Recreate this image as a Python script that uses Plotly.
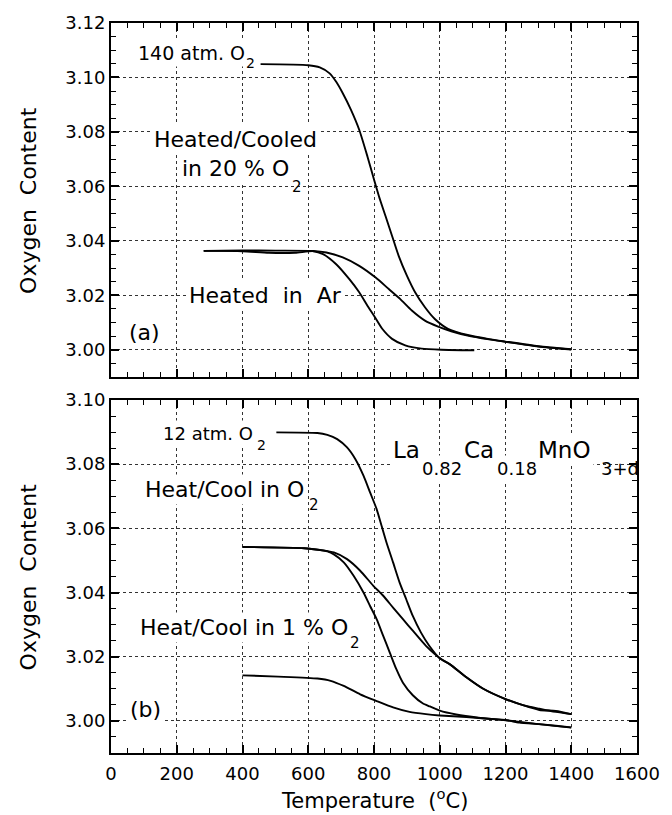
import plotly.graph_objects as go

# ---------------- data ----------------
# Panel (a)
t_140atm = [455, 600, 635, 665, 685, 705, 730, 755, 780, 800, 815, 835, 855, 875, 900,
            925, 955, 985, 1025, 1085, 1150, 1200, 1300, 1400]
o_140atm = [3.1049, 3.1045, 3.1037, 3.1015, 3.0984, 3.0942, 3.0881, 3.0808, 3.0710, 3.0625,
            3.0564, 3.0491, 3.0418, 3.0345, 3.0272, 3.0211, 3.0156, 3.0113, 3.0077, 3.0054,
            3.0039, 3.0030, 3.0013, 3.0002]

t_20pct = [282, 400, 500, 615, 655, 705, 755, 805, 845, 880, 915, 955, 995, 1035, 1085,
           1150, 1200, 1300, 1400]
o_20pct = [3.0363, 3.0365, 3.0364, 3.0363, 3.0357, 3.0339, 3.0308, 3.0265, 3.0223, 3.0186,
           3.0144, 3.0107, 3.0085, 3.0068, 3.0052, 3.0038, 3.0029, 3.0012, 3.0001]

t_ar = [282, 400, 480, 560, 615, 645, 685, 725, 755, 780, 800, 825, 855, 895, 945, 1005, 1105]
o_ar = [3.0363, 3.0362, 3.0356, 3.0356, 3.0362, 3.0351, 3.0314, 3.0259, 3.0211, 3.0162,
        3.0125, 3.0077, 3.0040, 3.0016, 3.0004, 3.0000, 2.9998]

# Panel (b)
t_12atm = [503, 628, 658, 688, 718, 743, 768, 788, 808, 823, 838, 858, 878, 898, 918, 943,
           968, 998, 1030, 1081, 1131, 1200, 1253, 1303, 1353, 1400]
o_12atm = [3.0899, 3.0897, 3.0891, 3.0878, 3.0852, 3.0816, 3.0764, 3.0712, 3.0660, 3.0608,
           3.0556, 3.0494, 3.0431, 3.0379, 3.0327, 3.0275, 3.0234, 3.0197, 3.0177, 3.0136,
           3.0101, 3.0068, 3.0049, 3.0034, 3.0031, 3.0021]

t_o2 = [400, 588, 638, 678, 718, 758, 798, 828, 858, 888, 918, 958, 1005, 1030, 1081, 1131,
        1200, 1253, 1303, 1353, 1400]
o_o2 = [3.0542, 3.0538, 3.0532, 3.0525, 3.0504, 3.0468, 3.0421, 3.0390, 3.0353, 3.0317,
        3.0281, 3.0234, 3.0192, 3.0177, 3.0136, 3.0101, 3.0068, 3.0049, 3.0038, 3.0028, 3.0021]

t_1pct_a = [400, 588, 658, 678, 708, 738, 768, 788, 808, 828, 848, 868, 888, 918, 948, 970,
            1000, 1050, 1118, 1200, 1300, 1400]
o_1pct_a = [3.0542, 3.0538, 3.0528, 3.0519, 3.0494, 3.0452, 3.0400, 3.0358, 3.0317, 3.0265,
            3.0213, 3.0161, 3.0119, 3.0080, 3.0055, 3.0045, 3.0032, 3.0020, 3.0010, 3.0002,
            2.9990, 2.9979]

t_1pct_b = [400, 508, 628, 668, 708, 758, 808, 858, 908, 958, 1000, 1081, 1158, 1200, 1242,
            1303, 1353, 1400]
o_1pct_b = [3.0142, 3.0138, 3.0132, 3.0125, 3.0109, 3.0083, 3.0062, 3.0042, 3.0028, 3.0021,
            3.0017, 3.0012, 3.0006, 3.0003, 2.9995, 2.9990, 2.9985, 2.9980]

x_ticks = [0, 200, 400, 600, 800, 1000, 1200, 1400, 1600]
y_ticks_a = [3.00, 3.02, 3.04, 3.06, 3.08, 3.10, 3.12]
y_ticks_b = [3.00, 3.02, 3.04, 3.06, 3.08, 3.10]

# ---------------- figure ----------------
FONT = "DejaVu Sans"
fig = go.Figure()
line = dict(color="black", width=1.9, shape="spline", smoothing=0.6)

for t, o in [(t_140atm, o_140atm), (t_20pct, o_20pct), (t_ar, o_ar)]:
    fig.add_trace(go.Scatter(x=t, y=o, mode="lines", line=line, xaxis="x", yaxis="y",
                             showlegend=False, hoverinfo="skip"))
for t, o in [(t_12atm, o_12atm), (t_o2, o_o2), (t_1pct_a, o_1pct_a), (t_1pct_b, o_1pct_b)]:
    fig.add_trace(go.Scatter(x=t, y=o, mode="lines", line=line, xaxis="x2", yaxis="y2",
                             showlegend=False, hoverinfo="skip"))

common = dict(
    showline=True, linecolor="black", linewidth=2, mirror="allticks",
    ticks="inside", ticklen=8, tickwidth=1.5, tickcolor="black",
    showgrid=True, gridcolor="#333333", gridwidth=1, griddash="dot",
    zeroline=False,
    tickfont=dict(family=FONT, size=18, color="black"),
)
xcommon = dict(common, range=[0, 1600], tickmode="array", tickvals=x_ticks,
               minor=dict(ticks="inside", ticklen=5, tickwidth=1.2, tickcolor="black",
                          dtick=50, tick0=0, showgrid=False))

fig.update_layout(
    width=672, height=815,
    margin=dict(l=111, r=29, t=23, b=62),
    paper_bgcolor="white", plot_bgcolor="white",
    xaxis=dict(xcommon, anchor="y", showticklabels=False),
    yaxis=dict(common, domain=[0.5151, 1.0], range=[2.99, 3.12], tickmode="array",
               tickvals=y_ticks_a, ticktext=[f"{v:.2f}" for v in y_ticks_a], anchor="x",
               minor=dict(ticks="inside", ticklen=5, tickwidth=1.2, tickcolor="black",
                          dtick=0.005, tick0=3.0, showgrid=False)),
    xaxis2=dict(xcommon, anchor="y2", showticklabels=True, ticklabelstandoff=3),
    yaxis2=dict(common, domain=[0.0, 0.4836], range=[2.99, 3.10], tickmode="array",
                tickvals=y_ticks_b, ticktext=[f"{v:.2f}" for v in y_ticks_b], anchor="x2",
                minor=dict(ticks="inside", ticklen=5, tickwidth=1.2, tickcolor="black",
                           dtick=0.005, tick0=3.0, showgrid=False)),
)


def ann(x, y, text, size, xref="x", yref="y", xanchor="left", bg=True, **kw):
    fig.add_annotation(x=x, y=y, xref=xref, yref=yref, text=text, showarrow=False,
                       xanchor=xanchor, yanchor="middle",
                       font=dict(family=FONT, size=size, color="black"),
                       bgcolor="white" if bg else "rgba(0,0,0,0)", borderpad=2, **kw)


# panel (a) labels
ann(72, 3.109, "140 atm. O", 19)
ann(400, 3.1053, "2", 14, bg=False)
ann(379, 3.0774, "Heated/Cooled", 22, xanchor="center")
ann(208, 3.0664, "in 20 % O", 22)
ann(541, 3.0598, "2", 15, bg=False)
ann(471, 3.0201, "Heated  in  Ar", 22, xanchor="center")
ann(102, 3.0062, "(a)", 22, xanchor="center")

# panel (b) labels
ann(150, 3.0897, "12 atm. O", 18, xref="x2", yref="y2")
ann(436, 3.0860, "2", 14, xref="x2", yref="y2", bg=False)
ann(93, 3.0720, "Heat/Cool in O", 22, xref="x2", yref="y2")
ann(592, 3.0673, "2", 15, xref="x2", yref="y2", bg=False)
ann(78, 3.0290, "Heat/Cool in 1 % O", 22, xref="x2", yref="y2")
ann(719, 3.0243, "2", 15, xref="x2", yref="y2", bg=False)
ann(105, 3.0034, "(b)", 22, xref="x2", yref="y2", xanchor="center")

# formula
ann(848, 3.0844, "La", 23, xref="x2", yref="y2")
ann(938, 3.0788, "0.82", 18, xref="x2", yref="y2")
ann(1065, 3.0844, "Ca", 23, xref="x2", yref="y2")
ann(1164, 3.0788, "0.18", 18, xref="x2", yref="y2")
ann(1290, 3.0844, "MnO", 23, xref="x2", yref="y2")
ann(1480, 3.0788, "3+d", 18, xref="x2", yref="y2", bg=False)

# axis titles
for yr in ["y domain", "y2 domain"]:
    fig.add_annotation(x=-0.156, y=0.5, xref="paper", yref=yr, text="Oxygen  Content",
                       textangle=-90, showarrow=False, xanchor="center", yanchor="middle",
                       font=dict(family=FONT, size=22, color="black"))
fig.add_annotation(x=0.5, y=-0.0635, xref="x2 domain", yref="paper",
                   text="Temperature  (<sup>o</sup>C)", showarrow=False,
                   xanchor="center", yanchor="middle",
                   font=dict(family=FONT, size=21, color="black"))

fig.write_html("out.html")
